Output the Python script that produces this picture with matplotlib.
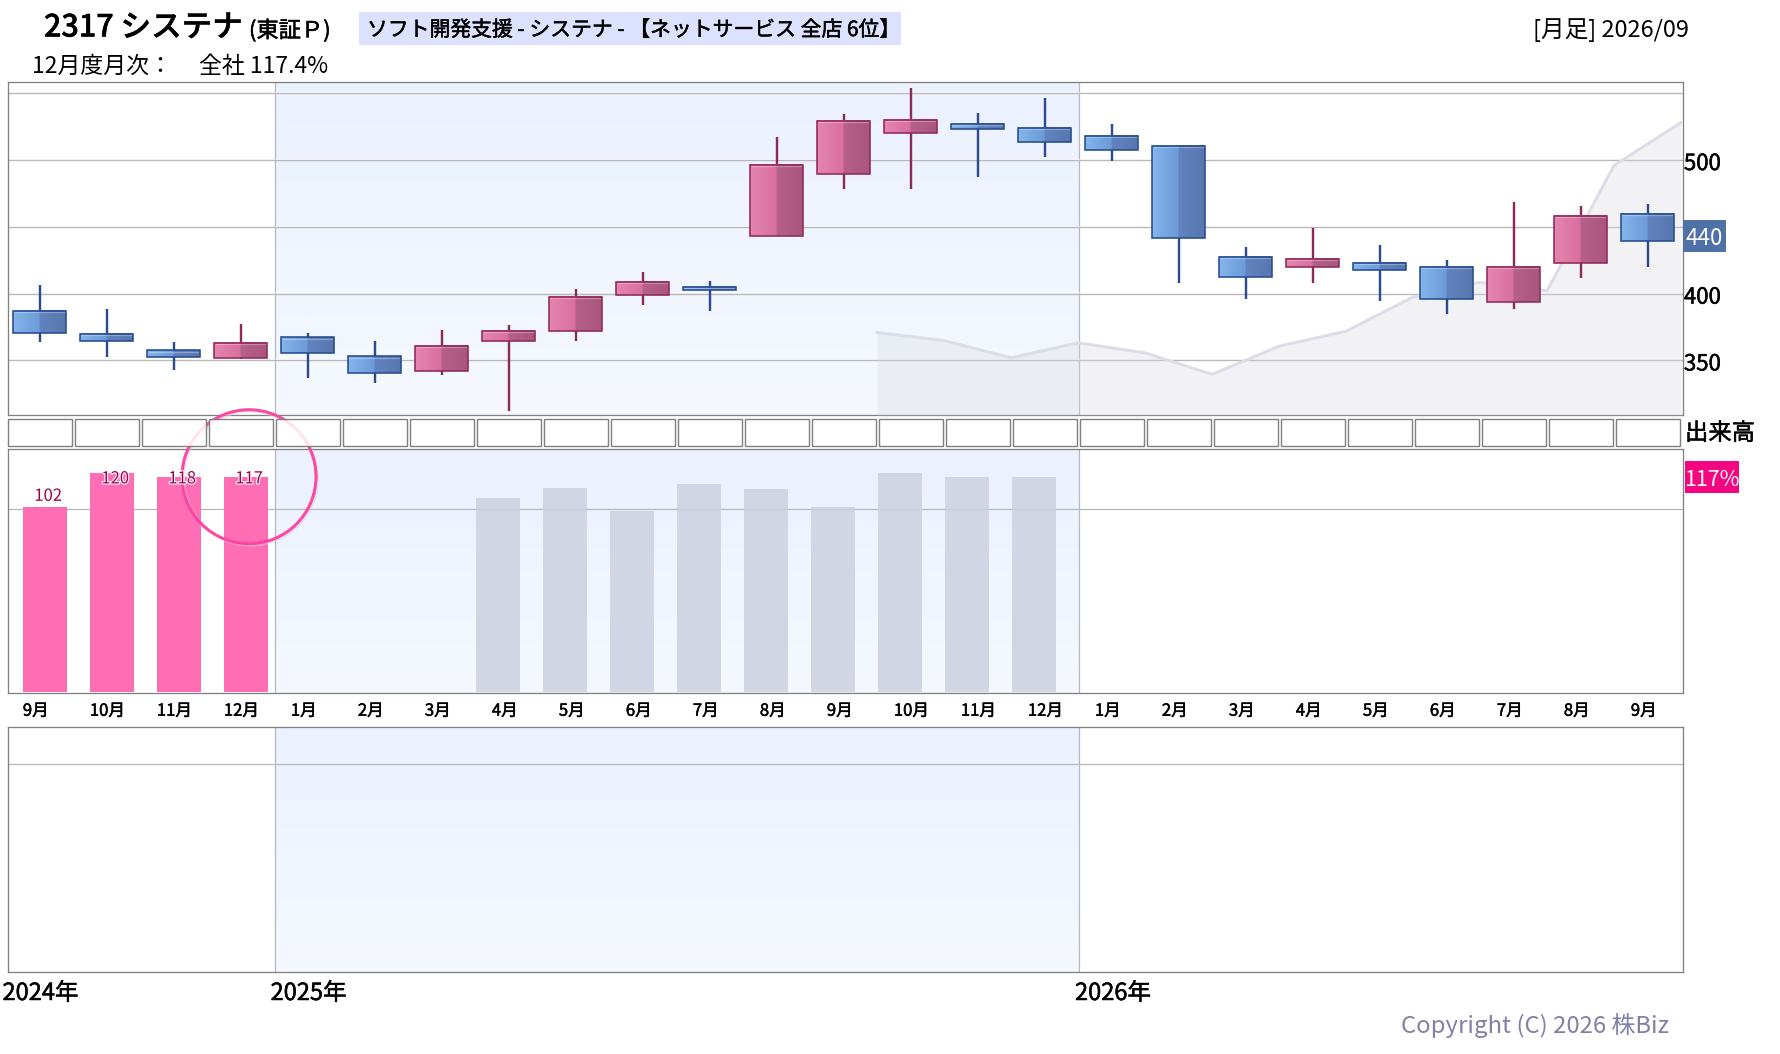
import numpy as np
import matplotlib
matplotlib.use("Agg")
import matplotlib.pyplot as plt
import matplotlib.patheffects as pe
from matplotlib.colors import to_rgb
from matplotlib.patches import Circle, Rectangle
from matplotlib.transforms import IdentityTransform

plt.rcParams['font.family'] = ['Noto Sans CJK JP', 'DejaVu Sans']

# monthly candles, 2024/09 .. 2026/09
months = ["9月", "10月", "11月", "12月", "1月", "2月", "3月", "4月", "5月", "6月", "7月", "8月", "9月",
          "10月", "11月", "12月", "1月", "2月", "3月", "4月", "5月", "6月", "7月", "8月", "9月"]
highs = [406.2, 388.3, 363.7, 377.1, 370.4, 364.9, 372.6, 376.4, 403.2, 415.9, 409.2, 517.4, 534.6,
         554.0, 535.3, 546.5, 527.1, 510.4, 434.6, 448.8, 436.1, 424.9, 468.9, 465.9, 467.4]
body_tops = [387.3, 370.1, 357.5, 363.4, 367.2, 353.0, 361.2, 372.4, 397.8, 409.0, 405.2, 496.3, 529.1,
             529.9, 526.9, 523.9, 517.9, 510.4, 427.6, 426.1, 423.1, 420.1, 420.1, 458.2, 459.7]
body_bots = [370.6, 364.7, 352.7, 352.0, 355.7, 340.3, 342.3, 364.7, 372.1, 399.0, 402.7, 443.0, 489.3,
             519.9, 522.9, 513.2, 507.2, 441.5, 412.4, 419.9, 417.7, 396.0, 393.8, 422.9, 439.3]
lows = [363.9, 352.7, 343.0, 351.2, 337.0, 333.3, 339.3, 312.4, 364.7, 391.3, 387.0, 443.0, 478.1,
        478.1, 487.1, 502.0, 499.5, 408.0, 396.0, 408.0, 394.5, 384.8, 388.6, 411.7, 419.9]
is_up = [0, 0, 0, 1, 0, 0, 1, 1, 1, 1, 0, 1, 1, 1, 0, 0, 0, 0, 0, 1, 0, 0, 1, 1, 0]

# gray area behind the candles
area_x = [12.5, 13.5, 14.5, 15.5, 16.5, 17.5, 18.5, 19.5, 20.5, 21.5, 22.5, 23.5, 24.5]
area_y = [370.9, 364.9, 352.0, 363.2, 355.7, 339.6, 360.7, 371.9, 397.5, 408.5, 402.2, 496.0, 528.1]

# monthly sales ratio bars
pink_idx = [0, 1, 2, 3]
pink_vals = [101.3, 119.9, 117.7, 117.7]
pink_labels = ["102", "120", "118", "117"]
gray_idx = [7, 8, 9, 10, 11, 12, 13, 14, 15]
gray_vals = [106.2, 111.7, 99.3, 113.9, 111.2, 101.3, 119.9, 117.7, 117.7]

price_ticks = [350, 400, 500]
price_grid = [350, 400, 450, 500, 550]
years = ["2024年", "2025年", "2026年"]

W, H = 1780, 1054
BLUE = ["#84b4ea", "#6c9cd9", "#6183bf", "#5877ae"]
PINK = ["#e585b0", "#d96f9e", "#b6608a", "#a9567c"]
GRID = "#b9b9b9"
FRAME = "#808080"
XLIM = (-0.479, 24.521)
BAND = (3.52, 15.51)
px = 0.72  # one pixel in points at dpi 100
heavy = [pe.withStroke(linewidth=0.35, foreground="black")]


def panel(top, bottom, left=7.5, right=1682.5):
    return fig.add_axes([left / W, 1 - bottom / H, (right - left) / W, (bottom - top) / H])


def ftext(x, y, s, **kw):
    kw.setdefault("va", "center")
    kw.setdefault("color", "black")
    fig.text(x / W, 1 - (y + 2.5) / H, s, **kw)


def box(x0, y0, x1, y1, color):
    fig.add_artist(Rectangle((x0 / W, 1 - y1 / H), (x1 - x0) / W, (y1 - y0) / H,
                             transform=fig.transFigure, fc=color, ec="none", zorder=1))


def style(ax, ylim):
    ax.set_xlim(*XLIM)
    ax.set_ylim(*ylim)
    for sp in ax.spines.values():
        sp.set_color(FRAME)
        sp.set_linewidth(1.3 * px)
    ax.tick_params(length=0)
    ax.set_xticks([])
    ax.set_yticks([])
    # blue band for 2025
    grad = np.linspace(to_rgb("#ebf1fe"), to_rgb("#f5f9ff"), 64).reshape(64, 1, 3)
    ax.imshow(grad, extent=(BAND[0], BAND[1], ylim[0], ylim[1]), aspect="auto", zorder=0)
    for d in BAND:
        ax.axvline(d, color="#b4b8c4", lw=1.3 * px, zorder=1)
    ax.set_xlim(*XLIM)
    ax.set_ylim(*ylim)


fig = plt.figure(figsize=(W / 100, H / 100), dpi=100)

# price panel
ax = panel(82, 415)
ylim = (309.2, 558.4)
style(ax, ylim)
for g in price_grid:
    ax.hlines(g + 1.0, BAND[0], BAND[1], color="white", lw=1.2 * px, zorder=1.5)
    ax.axhline(g, color=GRID, lw=1.4 * px, zorder=2)
ax.fill_between(area_x, area_y, ylim[0], color="#d9d9e2", alpha=0.33, lw=0, zorder=3)
ax.plot(area_x, area_y, color="#dddde8", lw=3 * px, zorder=3)

for i in range(len(months)):
    cols = PINK if is_up[i] else BLUE
    edge = "#8f2a5a" if is_up[i] else "#274c8e"
    wick = "#8a2a58" if is_up[i] else "#2b4b8c"
    ax.vlines(i, lows[i], highs[i], color=wick, lw=2.4 * px, zorder=4)
    left = np.linspace(to_rgb(cols[0]), to_rgb(cols[1]), 26)
    right = np.linspace(to_rgb(cols[2]), to_rgb(cols[3]), 26)
    img = np.vstack([left, right]).reshape(1, 52, 3)
    ax.imshow(img, extent=(i - 0.39, i + 0.39, body_bots[i], body_tops[i]), aspect="auto", zorder=5)
    ax.hlines(body_tops[i] - 1.0, i - 0.385, i + 0.385, color="white", alpha=0.3, lw=1.2 * px, zorder=5.5)
    ax.add_patch(Rectangle((i - 0.39, body_bots[i]), 0.78, body_tops[i] - body_bots[i],
                           fill=False, ec=edge, lw=1.6 * px, zorder=6))
ax.set_xlim(*XLIM)
ax.set_ylim(*ylim)

for t in price_ticks:
    ax.annotate(str(t), (1, t), xycoords=ax.get_yaxis_transform(), xytext=(1, -2.5),
                textcoords="offset points", fontsize=16, va="center", ha="left",
                path_effects=heavy, annotation_clip=False)

# empty volume boxes
vax = panel(419, 446)
vax.set_xlim(*XLIM)
vax.set_ylim(0, 1)
vax.axis("off")
vax.set_zorder(3)
for i in range(len(months)):
    vax.add_patch(Rectangle((i - 0.465, 0), 0.955, 1, fc="white", alpha=0.85, ec="none", zorder=2,
                            clip_on=False))
    vax.add_patch(Rectangle((i - 0.465, 0), 0.955, 1, fill=False, ec=FRAME, lw=1.4 * px, zorder=3,
                            clip_on=False))

# monthly ratio panel
bax = panel(449, 693)
blim = (-0.55, 133)
style(bax, blim)
bax.axhline(100, color=GRID, lw=1.3 * px, zorder=2)
bax.bar(np.array(gray_idx) - 0.16, gray_vals, width=0.656, color="#cdd0e0", alpha=0.85, zorder=3)
bax.bar(np.array(pink_idx) + 0.08, pink_vals, width=0.656, color="#ff6eb4", zorder=3)
for i, v, s in zip(pink_idx, pink_vals, pink_labels):
    bax.text(i + 0.13, min(v + 5.8, 116.6), s, ha="center", va="center", fontsize=12, color="#a00048",
             zorder=6, path_effects=[pe.withStroke(linewidth=1.6, foreground="white")])
bax.set_xticks(np.arange(len(months)) - 0.25)
bax.set_xticklabels(months, fontsize=12, ha="left", path_effects=heavy)
bax.tick_params(axis="x", pad=7)

# highlight ring around the latest figure, under the labels
ring = dict(fill=False, transform=IdentityTransform(), clip_on=False)
bax.add_patch(Circle((250.5, H - 478), 67, ec="#d8cfe6", lw=3 * px, alpha=0.6, zorder=4, **ring))
bax.add_patch(Circle((249, H - 476.7), 67, ec="#ff3f9f", lw=3 * px, alpha=0.95, zorder=5, **ring))

# blank bottom panel
nax = panel(727, 972)
style(nax, (0, 1))
nax.axhline(0.848, color=GRID, lw=1.3 * px, zorder=2)

# header
ftext(44, 25.5, "2317 システナ", fontsize=22, fontweight="medium", path_effects=heavy)
ftext(249, 28, "(東証Ｐ)", fontsize=16, path_effects=heavy)
box(359, 12, 901, 45, "#dce2fd")
ftext(367, 27.5, "ソフト開発支援 - システナ - 【ネットサービス 全店 6位】", fontsize=15, path_effects=heavy)
ftext(31.6, 64, "12月度月次：", fontsize=16.5)
ftext(199, 64, "全社 117.4%", fontsize=16.5)
ftext(1533, 28, "[月足] 2026/09", fontsize=17)

# right hand labels
box(1683, 220, 1726, 252, "#5070a8")
ftext(1704.5, 236, "440", fontsize=16, color="white", ha="center")
ftext(1685, 431, "出来高", fontsize=16.8, path_effects=heavy)
box(1685, 461, 1739, 492.7, "#f5057f")
ftext(1712, 477, "117%", fontsize=15.5, color="white", ha="center")

# footer
for x, s in zip([2.5, 270.6, 1075], years):
    ftext(x, 991, s, fontsize=17, path_effects=heavy)
ftext(1669, 1023, "Copyright (C) 2026 株Biz", fontsize=17.2, color="#8080a8", ha="right")

fig.savefig("out.png", dpi=100)
